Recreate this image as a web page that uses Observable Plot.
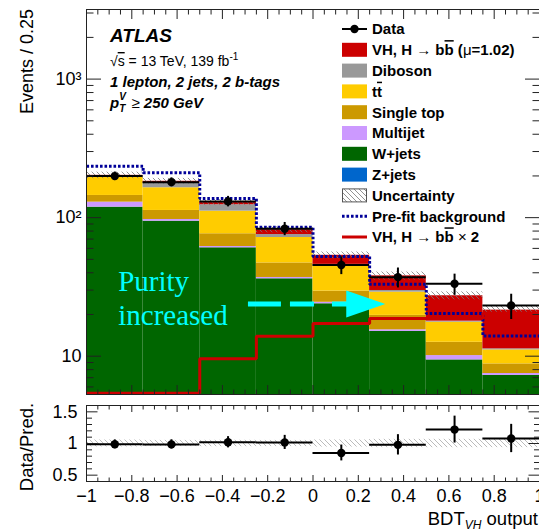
<!DOCTYPE html>
<html><head><meta charset="utf-8">
<script src="https://cdn.jsdelivr.net/npm/d3@7"></script>
<script src="https://cdn.jsdelivr.net/npm/@observablehq/plot@0.6"></script>
<style>
html,body{margin:0;padding:0;background:#fff;overflow:hidden;}
#wrap{position:relative;width:539px;height:532px;}
#main,#ratio{position:absolute;left:0;}
#main{top:0;} #ratio{top:400px;}
</style></head>
<body><div id="wrap"><div id="main"></div><div id="ratio"></div></div>
<script>
// ---- data ----
const binLo = [-1, -0.75, -0.5, -0.25, 0, 0.25, 0.5, 0.75];
const binHi = [-0.75, -0.5, -0.25, 0, 0.25, 0.5, 0.75, 1];
const zJets     = [0.5, 0.5, 0.5, 0.5, 0.5, 0.3, 0.3, 0.3];
const wJets     = [118.6, 93.8, 60.1, 35.7, 23.4, 14.8, 9.1, 6.96];
const multijet  = [10.3, 2.7, 1.3, 0.8, 0.6, 0.4, 0.7, 0.24];
const singleTop = [15.2, 15.7, 14.6, 10.1, 5.0, 4.2, 2.5, 1.3];
const ttbar     = [51.4, 51.7, 34.9, 24.8, 15.5, 9.3, 5.0, 2.3];
const diboson   = [4.0, 13.6, 12.6, 3.6, 1.0, 0.8, 0.3, 0.2];
const vhSignal  = [2.0, 5.0, 4.5, 6.3, 7.5, 8.2, 9.4, 10.2];
const uncert    = [11, 9, 6.5, 4, 3, 2.5, 1.8, 1.4];
const dataVals  = [199.4, 180.4, 131, 83.2, 45.5, 37.2, 33.3, 23.2];
const dataErr   = [14.1, 13.4, 11.4, 9.1, 6.7, 6.1, 5.8, 4.8];
const prefitBkg = [235, 211, 137.6, 85.4, 52.5, 33.1, 20.3, 14.0];
const vhTimes2  = [5.4, 5.4, 9.6, 13.9, 17.2, 18.7, 18.8, 20.4];
const xMajor = [-1, -0.8, -0.6, -0.4, -0.2, 0, 0.2, 0.4, 0.6, 0.8, 1];
const yMajor = [10, 100, 1000];
const yMajorLabels = ["10", "10\u00b2", "10\u00b3"];
const yMinor = [6,7,8,9,20,30,40,50,60,70,80,90,200,300,400,500,600,700,800,900,2000,3000];
const rMajor = [0.5, 1, 1.5];
const rMinor = [0.6,0.7,0.8,0.9,1.1,1.2,1.3,1.4];
const purityText = "Purity\nincreased";
const purityPos = {x: -0.86, y: 16.7};
const arrowSpec = {x1: -0.285, x2: 0.16, head: 0.233, y: 23.8};

const colors = {vh:"#cc0000", dib:"#999999", tt:"#ffcc00", st:"#cc9900", mj:"#cc99ff", wj:"#006600", zj:"#0066cc", prefit:"#000099", cyan:"#00ffff"};
const components = [
  {values: zJets, color: colors.zj},
  {values: wJets, color: colors.wj},
  {values: multijet, color: colors.mj},
  {values: singleTop, color: colors.st},
  {values: ttbar, color: colors.tt},
  {values: diboson, color: colors.dib},
  {values: vhSignal, color: colors.vh}
];
const stackRows = [];
binLo.forEach((lo, i) => {
  let cum = 0;
  components.forEach(c => {
    const v = c.values[i];
    stackRows.push({lo, hi: binHi[i], y1: cum > 0 ? cum : 0.01, y2: cum + v, color: c.color});
    cum += v;
  });
});
const totals = binLo.map((_, i) => components.reduce((s, c) => s + c.values[i], 0));
const bins = binLo.map((lo, i) => ({
  lo, hi: binHi[i], mid: (lo + binHi[i]) / 2,
  data: dataVals[i], err: dataErr[i], total: totals[i], unc: uncert[i]
}));
const stepPts = vals => binLo.map((x, i) => ({x, y: vals[i]})).concat([{x: binHi[binHi.length - 1], y: vals[vals.length - 1]}]);
const xMinor = d3.range(-1, 1.0001, 0.05).filter(v => Math.abs(v * 5 - Math.round(v * 5)) > 1e-6);
const fmtX = d => d === 0 ? "0" : (d < 0 ? "\u2212" : "") + String(Math.abs(Math.round(d * 10) / 10));
const FONT = "Liberation Sans, Arial, Helvetica, sans-serif";
const FR = "#222";

// ---- main panel ----
const mainPlot = Plot.plot({
  width: 539, height: 400,
  marginLeft: 86, marginRight: 0, marginTop: 9, marginBottom: 6,
  style: {fontFamily: FONT, fontSize: "18px", background: "transparent", overflow: "visible"},
  x: {domain: [-1, 1]},
  y: {type: "log", domain: [5.29, 3180]},
  color: {type: "identity"},
  marks: [
    Plot.rect(stackRows, {x1: "lo", x2: "hi", y1: "y1", y2: "y2", fill: d => d.color, clip: true}),
    Plot.rect(bins, {x1: "lo", x2: "hi", y1: d => d.total - d.unc, y2: d => d.total + d.unc, fill: "url(#hatchMain)", clip: true}),
    Plot.text([purityPos], {x: "x", y: "y", text: () => purityText, textAnchor: "start", lineAnchor: "bottom", lineHeight: 1.17, fontFamily: "Liberation Serif, Times New Roman, serif", fontSize: 29, fill: colors.cyan}),
    Plot.ruleY([arrowSpec], {y: "y", x1: "x1", x2: "x2", stroke: colors.cyan, strokeWidth: 5, strokeDasharray: "33,9,24,18", strokeLinecap: "butt"}),
    Plot.dot([arrowSpec], {x: "head", y: "y", fill: colors.cyan, stroke: "none",
      symbol: {draw(ctx) { ctx.moveTo(-19.5, -13.5); ctx.lineTo(19.5, 0); ctx.lineTo(-19.5, 13.5); ctx.closePath(); }}}),
    Plot.line(stepPts(prefitBkg), {x: "x", y: "y", curve: "step-after", stroke: colors.prefit, strokeWidth: 3, strokeDasharray: "2.6,1.9", strokeLinecap: "butt", strokeLinejoin: "miter", clip: true}),
    Plot.line(stepPts(vhTimes2), {x: "x", y: "y", curve: "step-after", stroke: colors.vh, strokeWidth: 3, strokeLinecap: "butt", strokeLinejoin: "miter"}),
    Plot.ruleY(bins, {y: "data", x1: "lo", x2: "hi", stroke: "#000", strokeWidth: 2}),
    Plot.ruleX(bins, {x: "mid", y1: d => d.data - d.err, y2: d => d.data + d.err, stroke: "#000", strokeWidth: 2}),
    Plot.dot(bins, {x: "mid", y: "data", r: 4.2, fill: "#000", stroke: "none"}),
    Plot.frame({stroke: FR}),
    Plot.axisX({anchor: "bottom", ticks: xMajor, tickSize: 9, dy: -9, tickFormat: () => "", stroke: FR, label: null}),
    Plot.axisX({anchor: "bottom", ticks: xMinor, tickSize: 4.5, dy: -4.5, tickFormat: () => "", stroke: FR, label: null}),
    Plot.axisX({anchor: "top", ticks: xMajor, tickSize: 9, dy: 9, tickFormat: () => "", stroke: FR, label: null}),
    Plot.axisX({anchor: "top", ticks: xMinor, tickSize: 4.5, dy: 4.5, tickFormat: () => "", stroke: FR, label: null}),
    Plot.axisY({anchor: "left", ticks: yMajor, tickSize: 15, dx: 15, tickFormat: () => "", stroke: FR, label: null}),
    Plot.axisY({anchor: "left", ticks: yMinor, tickSize: 7.5, dx: 7.5, tickFormat: () => "", stroke: FR, label: null}),
    Plot.axisY({anchor: "right", ticks: yMajor, tickSize: 15, dx: -15, tickFormat: () => "", stroke: FR, label: null}),
    Plot.axisY({anchor: "right", ticks: yMinor, tickSize: 7.5, dx: -7.5, tickFormat: () => "", stroke: FR, label: null}),
    Plot.axisY({anchor: "left", ticks: yMajor, tickSize: 0, tickPadding: 5, tickFormat: d => yMajorLabels[yMajor.indexOf(d)], fontSize: 18, label: null})
  ]
});
document.getElementById("main").appendChild(mainPlot);

// ---- ratio panel ----
const ratioPlot = Plot.plot({
  width: 539, height: 132,
  marginLeft: 86, marginRight: 0, marginTop: 5, marginBottom: 51,
  style: {fontFamily: FONT, fontSize: "18px", background: "transparent", overflow: "visible"},
  x: {domain: [-1, 1]},
  y: {domain: [0.4, 1.6]},
  marks: [
    Plot.rect(bins, {x1: "lo", x2: "hi", y1: d => 1 - d.unc / d.total, y2: d => 1 + d.unc / d.total, fill: "url(#hatchRatio)"}),
    Plot.ruleY(bins, {y: d => d.data / d.total, x1: "lo", x2: "hi", stroke: "#000", strokeWidth: 2}),
    Plot.ruleX(bins, {x: "mid", y1: d => (d.data - d.err) / d.total, y2: d => (d.data + d.err) / d.total, stroke: "#000", strokeWidth: 2}),
    Plot.dot(bins, {x: "mid", y: d => d.data / d.total, r: 4.2, fill: "#000", stroke: "none"}),
    Plot.frame({stroke: FR}),
    Plot.axisX({anchor: "bottom", ticks: xMajor, tickSize: 6, dy: -6, tickFormat: () => "", stroke: FR, label: null}),
    Plot.axisX({anchor: "bottom", ticks: xMinor, tickSize: 3.5, dy: -3.5, tickFormat: () => "", stroke: FR, label: null}),
    Plot.axisX({anchor: "top", ticks: xMajor, tickSize: 6, dy: 6, tickFormat: () => "", stroke: FR, label: null}),
    Plot.axisX({anchor: "top", ticks: xMinor, tickSize: 3.5, dy: 3.5, tickFormat: () => "", stroke: FR, label: null}),
    Plot.axisY({anchor: "left", ticks: rMajor, tickSize: 11.5, dx: 11.5, tickFormat: () => "", stroke: FR, label: null}),
    Plot.axisY({anchor: "left", ticks: rMinor, tickSize: 6, dx: 6, tickFormat: () => "", stroke: FR, label: null}),
    Plot.axisY({anchor: "right", ticks: rMajor, tickSize: 11.5, dx: -11.5, tickFormat: () => "", stroke: FR, label: null}),
    Plot.axisY({anchor: "right", ticks: rMinor, tickSize: 6, dx: -6, tickFormat: () => "", stroke: FR, label: null}),
    Plot.axisY({anchor: "left", ticks: rMajor, tickSize: 0, tickPadding: 9, tickFormat: d => String(d), fontSize: 18, label: null}),
    Plot.axisX({anchor: "bottom", ticks: xMajor, tickSize: 0, tickPadding: 8, tickFormat: fmtX, fontSize: 18, label: null})
  ]
});
document.getElementById("ratio").appendChild(ratioPlot);

// ---- patterns ----
d3.select(mainPlot).insert("defs", ":first-child").html(
  '<pattern id="hatchMain" patternUnits="userSpaceOnUse" width="5" height="5"><path d="M-1,-1 L6,6 M-1,4 L1,6 M4,-1 L6,1" stroke="#777" stroke-width="0.8" fill="none"/></pattern>');
d3.select(ratioPlot).insert("defs", ":first-child").html(
  '<pattern id="hatchRatio" patternUnits="userSpaceOnUse" width="5" height="5"><path d="M-1,-1 L6,6 M-1,4 L1,6 M4,-1 L6,1" stroke="#aaa" stroke-width="0.8" fill="none"/></pattern>');

// ---- text helpers ----
function txt(g, x, y, parts, attrs) {
  const t = g.append("text").attr("x", x).attr("y", y).attr("text-anchor", "start");
  Object.entries(attrs || {}).forEach(([k, v]) => t.attr(k, v));
  parts.forEach(p => {
    const s = t.append("tspan").text(p.t);
    if (p.a) Object.entries(p.a).forEach(([k, v]) => s.attr(k, v));
  });
  return t;
}
const OL = {style: "text-decoration: overline"};
const NW = {"font-weight": "normal"};

const gm = d3.select(mainPlot).append("g").attr("font-family", FONT).attr("fill", "#000").attr("text-anchor", "start");
// y title
txt(gm, 0, 0, [{t: "Events / 0.25"}], {"font-size": 18, "text-anchor": "end", transform: "translate(33,9) rotate(-90)"});
// ATLAS labels
txt(gm, 110, 41.5, [{t: "ATLAS"}], {"font-size": 19, "font-weight": "bold", "font-style": "italic"});
txt(gm, 110, 66, [{t: "\u221a"}, {t: "s", a: OL}, {t: " = 13 TeV, 139 fb"}, {t: "-1", a: {"font-size": 10, dy: -6}}], {"font-size": 14});
txt(gm, 110, 87, [{t: "1 lepton, 2 jets, 2 b-tags"}], {"font-size": 15, "font-weight": "bold", "font-style": "italic"});
txt(gm, 110, 107.5, [
  {t: "p"},
  {t: "V", a: {"font-size": 10, dy: -8}},
  {t: "T", a: {"font-size": 10, dx: -6.7, dy: 12}},
  {t: " \u2265", a: {dy: -4, dx: 2, "font-weight": "normal", "font-style": "normal"}},
  {t: " 250 GeV"}
], {"font-size": 15, "font-weight": "bold", "font-style": "italic"});

// legend
const L = {x0: 342, x1: 367, tx: 372, y0: 29, dy: 20.8};
const legendRows = [
  {kind: "data", parts: [{t: "Data"}]},
  {kind: "box", color: colors.vh, parts: [{t: "VH, H "}, {t: "\u2192", a: NW}, {t: " b"}, {t: "b", a: OL}, {t: " ("}, {t: "\u03bc", a: NW}, {t: "=1.02)"}]},
  {kind: "box", color: colors.dib, parts: [{t: "Diboson"}]},
  {kind: "box", color: colors.tt, parts: [{t: "t"}, {t: "t", a: OL}]},
  {kind: "box", color: colors.st, parts: [{t: "Single top"}]},
  {kind: "box", color: colors.mj, parts: [{t: "Multijet"}]},
  {kind: "box", color: colors.wj, parts: [{t: "W+jets"}]},
  {kind: "box", color: colors.zj, parts: [{t: "Z+jets"}]},
  {kind: "hatch", parts: [{t: "Uncertainty"}]},
  {kind: "dotted", parts: [{t: "Pre-fit background"}]},
  {kind: "line", parts: [{t: "VH, H "}, {t: "\u2192", a: NW}, {t: " b"}, {t: "b", a: OL}, {t: " "}, {t: "\u00d7", a: NW}, {t: " 2"}]}
];
legendRows.forEach((r, i) => {
  const cy = L.y0 + i * L.dy;
  if (r.kind === "data") {
    gm.append("line").attr("x1", L.x0).attr("x2", L.x1).attr("y1", cy).attr("y2", cy).attr("stroke", "#000").attr("stroke-width", 2);
    gm.append("circle").attr("cx", (L.x0 + L.x1) / 2).attr("cy", cy).attr("r", 4.2).attr("fill", "#000");
  } else if (r.kind === "box") {
    gm.append("rect").attr("x", L.x0).attr("y", cy - 7).attr("width", L.x1 - L.x0).attr("height", 14).attr("fill", r.color);
  } else if (r.kind === "hatch") {
    gm.append("rect").attr("x", L.x0 + 0.5).attr("y", cy - 6.5).attr("width", L.x1 - L.x0 - 1).attr("height", 13).attr("fill", "url(#hatchMain)").attr("stroke", "#555").attr("stroke-width", 1);
  } else if (r.kind === "dotted") {
    gm.append("line").attr("x1", L.x0).attr("x2", L.x1).attr("y1", cy).attr("y2", cy).attr("stroke", colors.prefit).attr("stroke-width", 3).attr("stroke-dasharray", "2.6,1.9");
  } else if (r.kind === "line") {
    gm.append("line").attr("x1", L.x0).attr("x2", L.x1).attr("y1", cy).attr("y2", cy).attr("stroke", colors.vh).attr("stroke-width", 3);
  }
  txt(gm, L.tx, cy + 5.3, r.parts, {"font-size": 15, "font-weight": "bold"});
});

// ratio titles
const gr = d3.select(ratioPlot).append("g").attr("font-family", FONT).attr("fill", "#000");
txt(gr, 0, 0, [{t: "Data/Pred."}], {"font-size": 18.5, "text-anchor": "middle", transform: "translate(33,47) rotate(-90)"});
txt(gr, 538, 125, [{t: "BDT"}, {t: "VH", a: {"font-size": 12, "font-style": "italic", dy: 4}}, {t: " output", a: {dy: -4}}], {"font-size": 18.5, "text-anchor": "end"});
</script>
</body></html>
